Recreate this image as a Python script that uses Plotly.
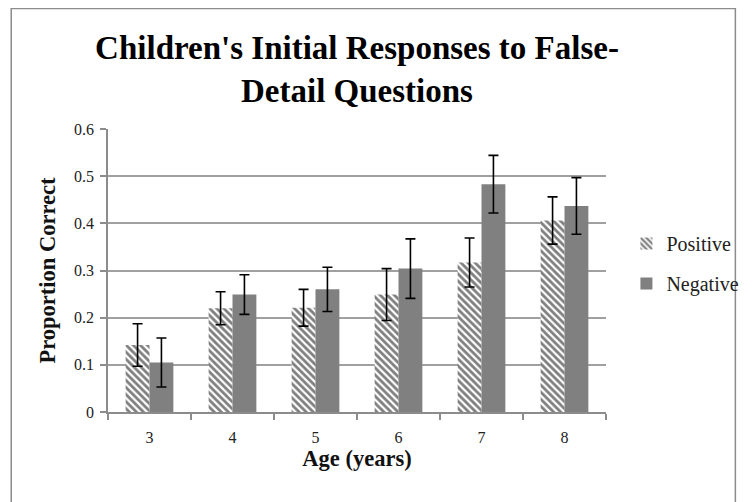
import plotly.graph_objects as go

ages = ["3", "4", "5", "6", "7", "8"]
positive = [0.142, 0.220, 0.221, 0.249, 0.317, 0.406]
positive_err = [0.045, 0.035, 0.039, 0.055, 0.052, 0.050]
negative = [0.105, 0.249, 0.260, 0.304, 0.483, 0.437]
negative_err = [0.052, 0.042, 0.047, 0.063, 0.061, 0.060]
y_ticks = [0, 0.1, 0.2, 0.3, 0.4, 0.5, 0.6]
y_tick_labels = ["0", "0.1", "0.2", "0.3", "0.4", "0.5", "0.6"]

SERIF = "Liberation Serif, DejaVu Serif, serif"

fig = go.Figure()
fig.add_trace(go.Bar(
    x=ages, y=positive, name="Positive", legendgroup="pos",
    marker=dict(color="white", line=dict(width=0),
                pattern=dict(shape="\\", fgcolor="black", bgcolor="white",
                             size=5, solidity=0.55)),
    error_y=dict(type="data", array=positive_err, color="black",
                 thickness=1.6, width=5),
))
fig.add_trace(go.Bar(
    x=ages, y=negative, name="Negative", legendgroup="neg",
    marker=dict(color="#808080", line=dict(width=0)),
    error_y=dict(type="data", array=negative_err, color="black",
                 thickness=1.6, width=5),
))

# the page body has an 8px margin, so figure coordinates = screen - 8
OFF = 8
W, H = 756 - OFF, 502 - OFF
L, R, T, B = 108 - OFF, 756 - 620, 129 - OFF, 502 - 412
pw = W - L - R
ph = H - T - B

def px_x(p):
    return (p - OFF - L) / pw

def px_y(p):
    return (H - B - (p - OFF)) / ph

fig.update_layout(
    width=W, height=H,
    margin=dict(l=L, r=R, t=T, b=B, pad=0),
    paper_bgcolor="white", plot_bgcolor="white",
    barmode="group", bargap=0.425, bargroupgap=0,
    font=dict(family=SERIF, color="#222222", size=16),
    showlegend=True,
    title=dict(text="<b>Children's Initial Responses to False-<br>Detail Questions</b>",
               x=px_x(364), xref="paper", xanchor="center",
               y=1 - (59 - OFF) / H, yref="container", yanchor="middle",
               font=dict(family=SERIF, size=33, color="#000000")),
    legend=dict(x=px_x(641), y=px_y(224), xanchor="left", yanchor="top",
                font=dict(family=SERIF, size=20, color="#222222"),
                tracegroupgap=11, itemwidth=30, bgcolor="rgba(0,0,0,0)",
                traceorder="grouped"),
    xaxis=dict(
        title=dict(text="<b>Age (years)</b>", font=dict(family=SERIF, size=22.5, color="#111111"),
                   standoff=4),
        showline=True, linecolor="#8c8c8c", linewidth=1.5,
        ticks="outside", ticklen=6, tickcolor="#8c8c8c", tickwidth=1.5,
        tickson="boundaries", ticklabelstandoff=10,
        tickfont=dict(family=SERIF, size=16, color="#222222"),
        showgrid=False,
    ),
    yaxis=dict(
        title=dict(text="<b>Proportion Correct</b>", font=dict(family=SERIF, size=22.5, color="#111111"),
                   standoff=12),
        range=[0, 0.6], tickvals=y_ticks, ticktext=y_tick_labels,
        showline=True, linecolor="#8c8c8c", linewidth=1.5,
        ticks="outside", ticklen=6, tickcolor="#8c8c8c", tickwidth=1.5,
        ticklabelstandoff=3,
        showgrid=True, gridcolor="#a0a0a0", gridwidth=1.5,
        tickfont=dict(family=SERIF, size=16, color="#222222"),
        zeroline=False,
    ),
    shapes=[
        dict(type="rect", xref="paper", yref="paper",
             x0=px_x(8.5), x1=px_x(753), y0=px_y(520), y1=px_y(8.5),
             line=dict(color="#8c8c8c", width=1.5), fillcolor="rgba(0,0,0,0)", layer="below"),
    ],
)

fig.write_html("out.html")
